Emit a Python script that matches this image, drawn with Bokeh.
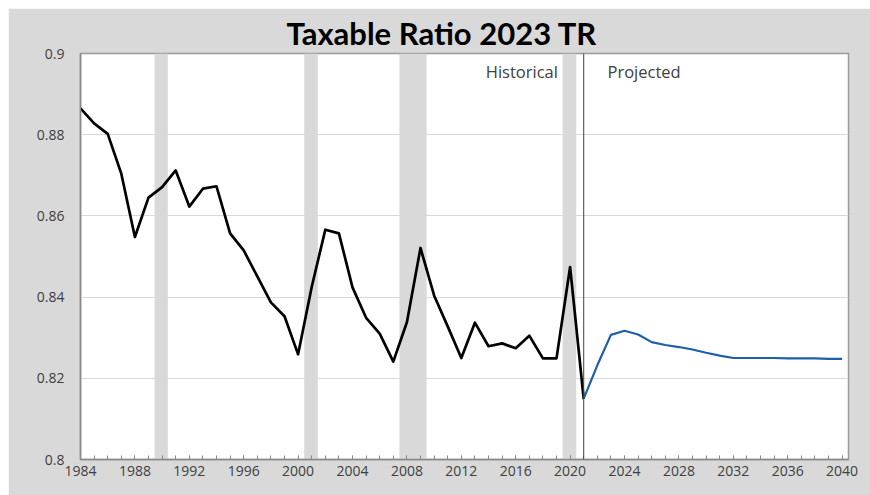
from bokeh.plotting import figure
from bokeh.models import FixedTicker, Label, Range1d, Span
from bokeh.embed import file_html
from bokeh.resources import INLINE

# ---- data ----
hist_years = list(range(1984, 2022))
hist_vals = [0.8865, 0.8828, 0.8802, 0.8704, 0.8548, 0.8645, 0.8671, 0.8712,
             0.8623, 0.8667, 0.8673, 0.8557, 0.8515, 0.8451, 0.8387, 0.8353,
             0.8259, 0.8425, 0.8566, 0.8557, 0.8424, 0.8349, 0.8310, 0.8241,
             0.8338, 0.8521, 0.8404, 0.8328, 0.8250, 0.8337, 0.8279, 0.8286,
             0.8274, 0.8305, 0.8249, 0.8249, 0.8474, 0.8149]
proj_years = list(range(2021, 2041))
proj_vals = [0.8150, 0.8232, 0.8307, 0.8317, 0.8308, 0.8289, 0.8282, 0.8277,
             0.8271, 0.8263, 0.8256, 0.8250, 0.8250, 0.8250, 0.8250, 0.8249,
             0.8249, 0.8249, 0.8248, 0.8248]
band_start = [1989.45, 2000.45, 2007.45, 2019.45]
band_end = [1990.42, 2001.45, 2009.45, 2020.45]
divider_year = 2021
x_ticks = list(range(1984, 2041, 4))
y_ticks = [0.8, 0.82, 0.84, 0.86, 0.88, 0.9]
y_tick_labels = ["0.8", "0.82", "0.84", "0.86", "0.88", "0.9"]
title_text = "Taxable Ratio 2023 TR"
hist_label = "Historical"
proj_label = "Projected"

FONT = "Open Sans"
TXT = "#404040"

p = figure(width=862, height=487, margin=(8, 0, 0, 8),
           output_backend="svg", toolbar_location=None,
           x_range=Range1d(1984, 2040.47), y_range=Range1d(0.8, 0.9),
           min_border_left=72, min_border_right=22, min_border_top=45,
           min_border_bottom=36, title=title_text)
p.background_fill_color = "white"
p.border_fill_color = "#d9d9d9"
p.outline_line_color = "#9a9a9a"
p.outline_line_width = 1.5

p.title.align = "left"
p.title.text_font = "Lato"
p.title.text_font_size = "31px"
p.title.text_font_style = "bold"
p.title.text_color = "black"
p.title.offset = 206
p.title.standoff = 3

# grid
p.xgrid.visible = False
p.ygrid.ticker = FixedTicker(ticks=y_ticks)
p.ygrid.grid_line_color = "#d9d9d9"
p.ygrid.grid_line_width = 1

# recession bands
bot = [y_ticks[0]] * len(band_start)
top = [y_ticks[-1]] * len(band_start)
p.quad(left=band_start, right=band_end, bottom=bot, top=top,
       fill_color="#d9d9d9", line_color=None)

# divider
p.add_layout(Span(location=divider_year, dimension="height",
                  line_color="#404040", line_width=1))

# lines
p.line(hist_years, hist_vals, line_color="black", line_width=2.7,
       line_join="round")
p.line(proj_years, proj_vals, line_color="#1f5ea8", line_width=2.2,
       line_join="round")

# axes
xa = p.xaxis[0]
xa.ticker = FixedTicker(ticks=x_ticks, minor_ticks=list(range(1984, 2041)))
xa.major_tick_in = 4
xa.major_tick_out = 0
xa.minor_tick_in = 4
xa.minor_tick_out = 0
xa.major_tick_line_color = "#888888"
xa.minor_tick_line_color = "#888888"
xa.axis_line_color = "#888888"
xa.axis_line_width = 1.5
xa.major_label_text_font = FONT
xa.major_label_text_font_size = "14px"
xa.major_label_text_color = TXT
xa.major_label_standoff = 6

ya = p.yaxis[0]
ya.ticker = FixedTicker(ticks=y_ticks)
ya.major_label_overrides = {t: l for t, l in zip(y_ticks, y_tick_labels)}
ya.major_tick_in = 0
ya.major_tick_out = 0
ya.minor_tick_line_color = None
ya.axis_line_color = "#888888"
ya.axis_line_width = 1.5
ya.major_label_text_font = FONT
ya.major_label_text_font_size = "14px"
ya.major_label_text_color = TXT
ya.major_label_standoff = 16

# texts
p.add_layout(Label(x=2019.1, y=0.8956, text=hist_label, text_align="right",
                   text_baseline="middle", text_font=FONT,
                   text_font_size="16.5px", text_color=TXT))
p.add_layout(Label(x=2022.75, y=0.8956, text=proj_label, text_align="left",
                   text_baseline="middle", text_font=FONT,
                   text_font_size="16.5px", text_color=TXT))

open("out.html", "w").write(file_html(p, INLINE))
